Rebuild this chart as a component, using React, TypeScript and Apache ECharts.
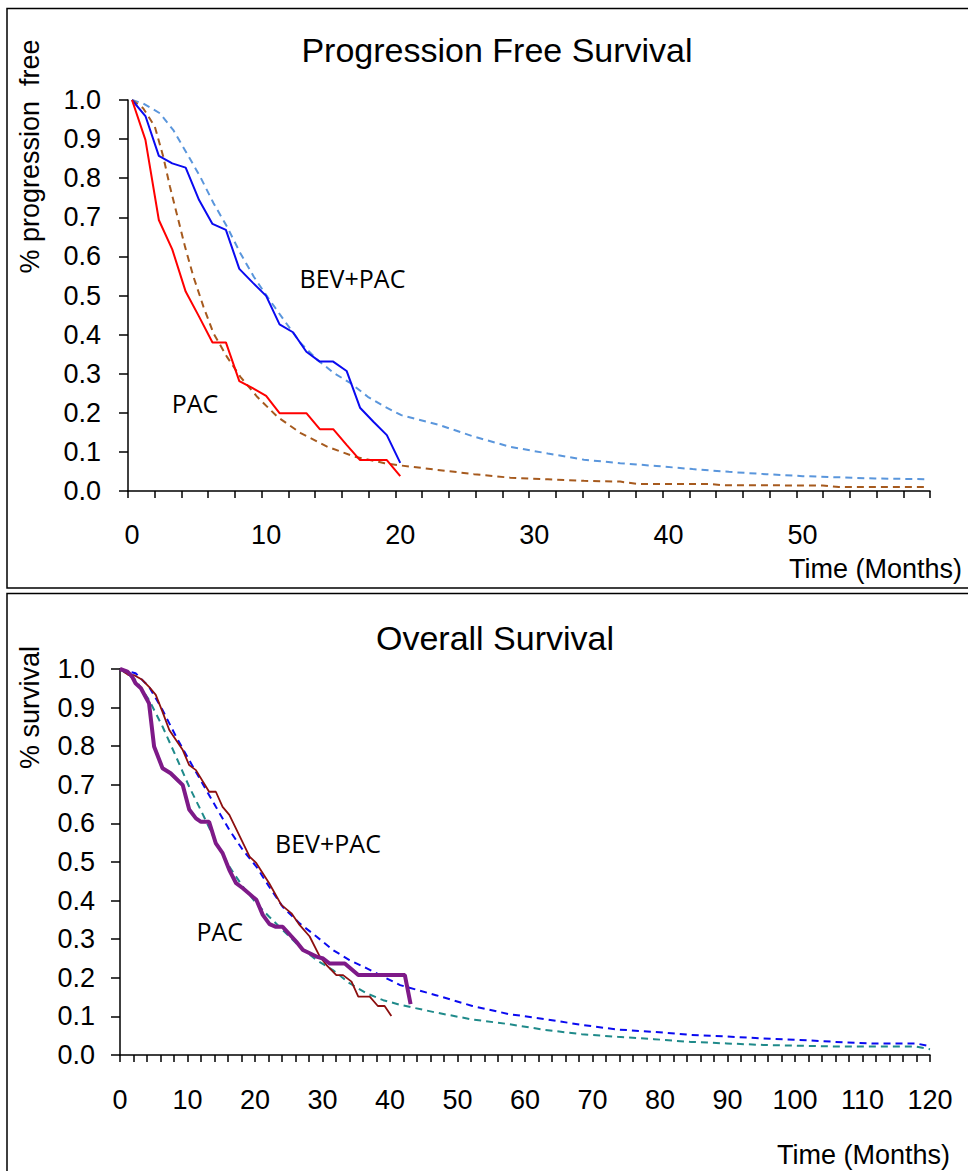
import React, { useEffect, useRef } from "react";
import * as echarts from "echarts";

// ---------- Progression Free Survival (top) ----------
const pfsMonths = [0, 1, 2, 3, 4, 5, 6, 7, 8, 9, 10, 11, 12, 13, 14, 15, 16, 17, 18, 19, 20];
const pfsBevPacObserved = [1.0, 0.959, 0.857, 0.838, 0.827, 0.744, 0.683, 0.668, 0.568, 0.533, 0.499, 0.426, 0.406, 0.356, 0.331, 0.331, 0.307, 0.213, 0.177, 0.143, 0.072];
const pfsPacObserved = [1.0, 0.898, 0.693, 0.618, 0.51, 0.446, 0.38, 0.38, 0.281, 0.263, 0.243, 0.199, 0.199, 0.199, 0.158, 0.158, 0.118, 0.079, 0.079, 0.079, 0.038];
const pfsBevPacModel = [
  [0, 1], [0.83, 0.991], [2.08, 0.966], [3.08, 0.923], [4.08, 0.864], [5.08, 0.804], [6.08, 0.736],
  [7.08, 0.676], [8.08, 0.608], [9.08, 0.548], [10.08, 0.497], [11.33, 0.437], [12.58, 0.378],
  [13.83, 0.335], [15.08, 0.301], [16.33, 0.275], [17.58, 0.241], [18.83, 0.216], [20.08, 0.194],
  [22.8, 0.17], [25.5, 0.139], [28.2, 0.113], [31, 0.096], [33.7, 0.08], [36.4, 0.071], [39.1, 0.064],
  [41.8, 0.056], [44.5, 0.049], [47.3, 0.043], [50, 0.038], [52.7, 0.035], [55.4, 0.032], [59.3, 0.03],
];
const pfsPacModel = [
  [0, 1], [0.83, 0.979], [1.7, 0.932], [2.33, 0.855], [2.83, 0.778], [3.33, 0.71], [3.95, 0.625],
  [4.58, 0.548], [5.33, 0.471], [6.08, 0.403], [7.08, 0.343], [8.08, 0.292], [9.33, 0.241],
  [10.83, 0.19], [12.58, 0.148], [14.58, 0.113], [16.58, 0.088], [18.83, 0.071], [20.1, 0.065],
  [22.8, 0.054], [25.5, 0.043], [28.2, 0.034], [31, 0.03], [33.7, 0.026], [36.4, 0.024], [37.7, 0.018],
  [43, 0.018], [44, 0.015], [51.5, 0.014], [52.7, 0.01], [59.3, 0.01],
];
const pfsXLabels = [0, 10, 20, 30, 40, 50];

// ---------- Overall Survival (bottom) ----------
const osPacObserved = [
  [0, 1], [1.1, 0.993], [1.8, 0.98], [2.3, 0.963], [3.1, 0.95], [4.3, 0.911], [5.05, 0.799], [6.3, 0.743],
  [7.5, 0.73], [9.3, 0.699], [10.25, 0.636], [11.25, 0.613], [12, 0.604], [13.2, 0.604], [14.2, 0.548],
  [15.2, 0.523], [16.2, 0.479], [17.2, 0.445], [18.2, 0.432], [20.2, 0.402], [21.15, 0.363], [22.15, 0.339],
  [23.1, 0.332], [24.1, 0.332], [26.1, 0.294], [27.1, 0.272], [29.1, 0.255], [30.1, 0.25], [31.05, 0.237],
  [33.3, 0.237], [35.3, 0.207], [42.2, 0.207], [43.05, 0.132],
];
const osBevPacObserved = [
  [0, 1], [1.3, 0.984], [2.1, 0.984], [3.3, 0.972], [4.3, 0.954], [5.3, 0.933], [6.3, 0.889], [7.3, 0.842],
  [8.3, 0.816], [9.3, 0.79], [10.25, 0.751], [11.25, 0.738], [13.2, 0.682], [14.2, 0.682], [15.2, 0.643],
  [16.2, 0.622], [19.2, 0.514], [20.2, 0.497], [22.1, 0.445], [23.9, 0.389], [25.4, 0.367], [26.6, 0.337],
  [28.1, 0.307], [29.6, 0.255], [30.6, 0.233], [32.05, 0.207], [33.05, 0.207], [34.3, 0.19], [35.3, 0.151],
  [37, 0.151], [38.2, 0.127], [39.2, 0.127], [40.2, 0.101],
];
const osBevPacModel = [
  [0, 1], [2.3, 0.989], [4.3, 0.954], [6.3, 0.894], [8.3, 0.825], [10.25, 0.764], [12.2, 0.704], [14.2, 0.643],
  [16.2, 0.583], [18.2, 0.531], [20.2, 0.488], [22.1, 0.436], [24.1, 0.384], [26.6, 0.341], [29.1, 0.307],
  [31.55, 0.272], [34, 0.246], [36.5, 0.225], [39, 0.203], [41.5, 0.181], [46.8, 0.155], [52.2, 0.127],
  [57.6, 0.106], [63, 0.093], [68.4, 0.078], [73.7, 0.066], [79.1, 0.06], [84.5, 0.052], [89.9, 0.048],
  [95.3, 0.043], [100.7, 0.039], [106, 0.034], [111.4, 0.03], [117.9, 0.03], [120, 0.023],
];
const osPacModel = [
  [0, 1], [2.3, 0.972], [4.3, 0.92], [6.3, 0.851], [8.3, 0.773], [10.25, 0.695], [12.2, 0.626], [14.2, 0.553],
  [16.2, 0.488], [18.2, 0.436], [20.2, 0.393], [22.1, 0.358], [24.1, 0.324], [26.6, 0.281], [29.1, 0.246],
  [31.55, 0.22], [34, 0.186], [36.5, 0.16], [39, 0.142], [41.5, 0.13], [46.8, 0.11], [52.2, 0.092],
  [57.6, 0.08], [63, 0.065], [68.4, 0.054], [73.7, 0.047], [79.1, 0.041], [84.5, 0.034], [89.9, 0.03],
  [95.3, 0.026], [100.7, 0.024], [106, 0.022], [117.9, 0.022], [120, 0.015],
];

const FONT = "'Liberation Sans', Arial, sans-serif";
const LABEL_FONT = "'Open Sans', 'Noto Sans', sans-serif";

export default function App() {
  const ref = useRef<HTMLDivElement>(null);

  useEffect(() => {
    if (!ref.current) return;
    const chart = echarts.init(ref.current, undefined, { renderer: "svg" });

    const topMin = -0.3;
    const topMax = 59.5;
    const topTicks = Array.from({ length: 31 }, (_, k) => topMin + (k * (topMax - topMin)) / 30);

    const axisLineStyle = { color: "#000", width: 1.5 };
    const yAxisCommon = (margin: number) => ({
      type: "value" as const,
      min: 0,
      max: 1,
      interval: 0.1,
      axisLine: { show: true, onZero: false, lineStyle: axisLineStyle },
      axisTick: { show: true, inside: false, length: 9, lineStyle: axisLineStyle },
      axisLabel: {
        margin,
        fontSize: 27,
        color: "#000",
        fontFamily: FONT,
        formatter: (v: number) => v.toFixed(1),
      },
      splitLine: { show: false },
    });

    const pfsBevObs = pfsMonths.map((m, i) => [m, pfsBevPacObserved[i]]);
    const pfsPacObs = pfsMonths.map((m, i) => [m, pfsPacObserved[i]]);

    const line = (
      data: number[][],
      color: string,
      width: number,
      dashed: boolean,
      idx: number,
      z: number
    ) => ({
      type: "line" as const,
      data,
      xAxisIndex: idx,
      yAxisIndex: idx,
      showSymbol: false,
      symbol: "none",
      smooth: false,
      silent: true,
      z,
      lineStyle: { color, width, type: dashed ? [7, 5] : "solid" },
    });

    const option: any = {
      animation: false,
      backgroundColor: "#fff",
      grid: [
        { left: 128, top: 100, width: 802, height: 391, containLabel: false, outerBoundsMode: "none" },
        { left: 120, top: 669, width: 810, height: 386, containLabel: false, outerBoundsMode: "none" },
      ],
      xAxis: [
        {
          gridIndex: 0,
          type: "value",
          min: topMin,
          max: topMax,
          axisLine: { show: true, onZero: false, lineStyle: axisLineStyle },
          axisTick: { show: true, inside: false, length: 7, customValues: topTicks, lineStyle: axisLineStyle },
          axisLabel: {
            customValues: pfsXLabels,
            margin: 30,
            fontSize: 27,
            color: "#000",
            fontFamily: FONT,
          },
          splitLine: { show: false },
        },
        {
          gridIndex: 1,
          type: "value",
          min: 0,
          max: 120,
          interval: 2,
          axisLine: { show: true, onZero: false, lineStyle: axisLineStyle },
          axisTick: { show: true, inside: false, length: 7, lineStyle: axisLineStyle },
          axisLabel: {
            margin: 31,
            fontSize: 27,
            color: "#000",
            fontFamily: FONT,
            formatter: (v: number) => (Math.round(v) % 10 === 0 ? String(Math.round(v)) : ""),
          },
          splitLine: { show: false },
        },
      ],
      yAxis: [
        { gridIndex: 0, ...yAxisCommon(27) },
        { gridIndex: 1, ...yAxisCommon(25) },
      ],
      series: [
        line(pfsBevPacModel, "#5A96DC", 2, true, 0, 2),
        line(pfsPacModel, "#A65A1E", 2, true, 0, 2),
        line(pfsBevObs, "#0A0AF0", 2, false, 0, 3),
        line(pfsPacObs, "#FF0000", 2, false, 0, 3),
        line(osBevPacModel, "#0A0AF0", 2, true, 1, 2),
        line(osPacModel, "#1F8A8A", 2, true, 1, 2),
        line(osBevPacObserved, "#8C0F0F", 1.8, false, 1, 3),
        line(osPacObserved, "#7E1A88", 4, false, 1, 4),
      ],
      graphic: [
        {
          type: "rect",
          silent: true,
          shape: { x: 7, y: 8.5, width: 1000, height: 579.5 },
          style: { fill: "none", stroke: "#000", lineWidth: 1.5 },
          z: 0,
        },
        {
          type: "rect",
          silent: true,
          shape: { x: 7, y: 593.5, width: 1000, height: 700 },
          style: { fill: "none", stroke: "#000", lineWidth: 1.5 },
          z: 0,
        },
        {
          type: "text",
          x: 497,
          y: 50,
          style: { text: "Progression Free Survival", fill: "#000", font: `34px ${FONT}`, align: "center", verticalAlign: "middle" },
        },
        {
          type: "text",
          x: 495,
          y: 638,
          style: { text: "Overall Survival", fill: "#000", font: `34px ${FONT}`, align: "center", verticalAlign: "middle" },
        },
        {
          type: "text",
          x: 30,
          y: 156.5,
          rotation: Math.PI / 2,
          style: { text: "% progression  free", fill: "#000", font: `27px ${FONT}`, align: "center", verticalAlign: "middle" },
        },
        {
          type: "text",
          x: 30,
          y: 707.5,
          rotation: Math.PI / 2,
          style: { text: "% survival", fill: "#000", font: `27px ${FONT}`, align: "center", verticalAlign: "middle" },
        },
        {
          type: "text",
          x: 962,
          y: 569,
          style: { text: "Time (Months)", fill: "#000", font: `27px ${FONT}`, align: "right", verticalAlign: "middle" },
        },
        {
          type: "text",
          x: 950,
          y: 1155,
          style: { text: "Time (Months)", fill: "#000", font: `27px ${FONT}`, align: "right", verticalAlign: "middle" },
        },
        {
          type: "text",
          x: 352.5,
          y: 277.5,
          style: { text: "BEV+PAC", fill: "#000", font: `25px ${LABEL_FONT}`, align: "center", verticalAlign: "middle" },
        },
        {
          type: "text",
          x: 195,
          y: 402.5,
          style: { text: "PAC", fill: "#000", font: `25px ${LABEL_FONT}`, align: "center", verticalAlign: "middle" },
        },
        {
          type: "text",
          x: 328,
          y: 843,
          style: { text: "BEV+PAC", fill: "#000", font: `25px ${LABEL_FONT}`, align: "center", verticalAlign: "middle" },
        },
        {
          type: "text",
          x: 219.7,
          y: 931,
          style: { text: "PAC", fill: "#000", font: `25px ${LABEL_FONT}`, align: "center", verticalAlign: "middle" },
        },
      ],
    };

    chart.setOption(option);
    return () => chart.dispose();
  }, []);

  return (
    <div
      ref={ref}
      style={{ position: "absolute", left: 0, top: 0, width: 968, height: 1171, background: "#fff" }}
    />
  );
}
